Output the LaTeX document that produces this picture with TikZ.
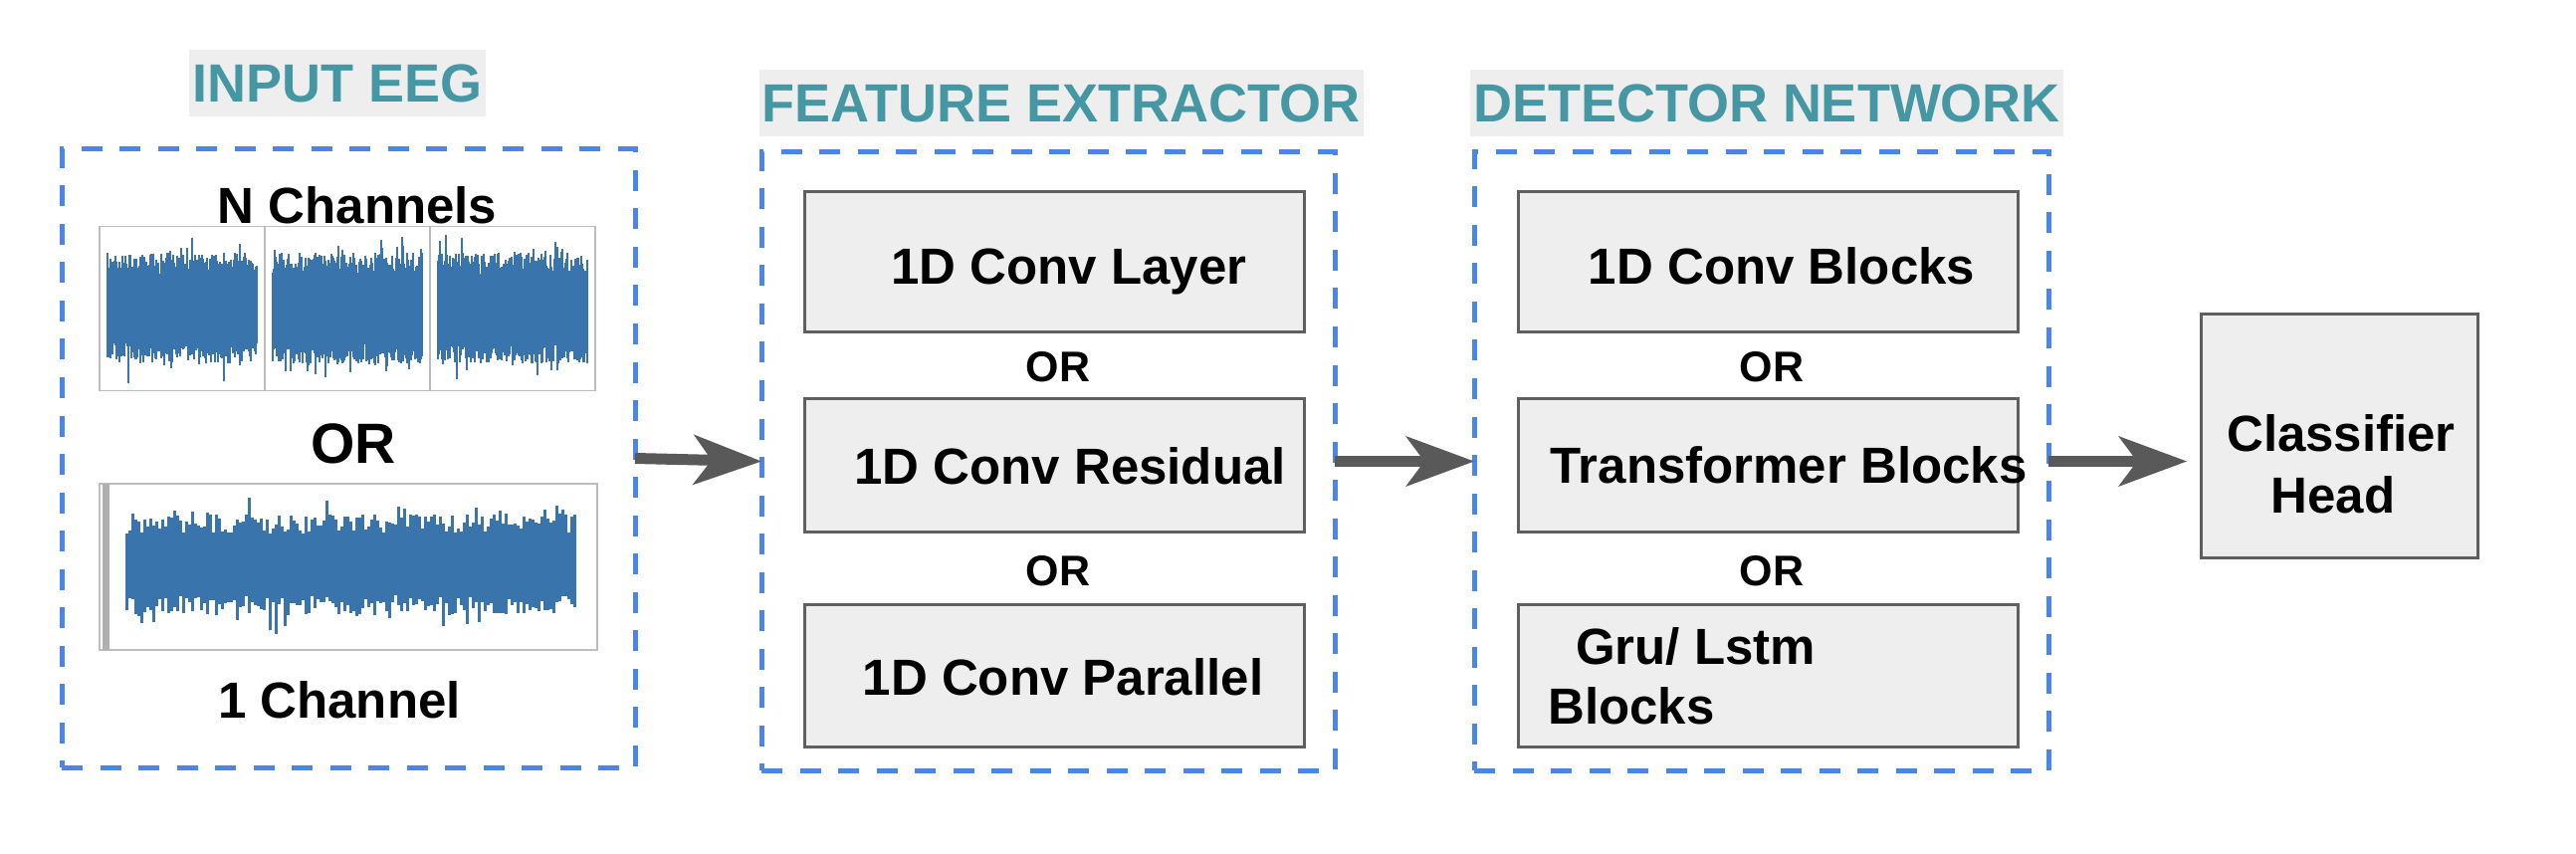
\documentclass[tikz,border=0pt]{standalone}
\usepackage{fontspec}
\setmainfont{Liberation Sans}
\usetikzlibrary{arrows.meta}
\definecolor{dashblue}{HTML}{4A86E8}
\definecolor{titleteal}{HTML}{4597A3}
\definecolor{titlebg}{HTML}{EEEEEE}
\definecolor{boxfill}{HTML}{EEEEEE}
\definecolor{boxline}{HTML}{5F5F5F}
\definecolor{arrowgray}{HTML}{595959}
\definecolor{sigblue}{HTML}{3A74AD}
\definecolor{framegray}{HTML}{BDBDBD}
\begin{document}
\begin{tikzpicture}[x=1pt,y=-1pt,
  group/.style={draw=dashblue, line width=5pt, dash pattern=on 21pt off 17.5pt, inner sep=0pt, outer sep=0pt, minimum height=621pt},
  blk/.style={draw=boxline, fill=boxfill, line width=3pt, inner sep=0pt, outer sep=0pt, minimum width=502pt},
  txt/.style={font=\bfseries\fontsize{51}{60}\selectfont, inner sep=0pt, anchor=base},
  ortxt/.style={font=\bfseries\fontsize{43}{50}\selectfont, inner sep=0pt, anchor=base},
  bigor/.style={font=\bfseries\fontsize{57}{64}\selectfont, inner sep=0pt, anchor=base},
  ttl/.style={font=\bfseries\fontsize{54}{60}\selectfont, text=titleteal, fill=titlebg, inner xsep=3pt, inner ysep=0pt, text height=53pt, text depth=14pt, anchor=base},
  frame/.style={draw=framegray, line width=1.5pt, inner sep=0pt, outer sep=0pt},
  sigthin/.style={draw=sigblue, line width=1.2pt},
  sigthick/.style={draw=sigblue, line width=3pt},
  bigarrow/.style={draw=arrowgray, line width=11pt, -{Stealth[length=69pt, width=51pt, inset=19pt, line width=0pt, fill=arrowgray]}}
]
\fill[white] (0,0) rectangle (2588,858);
\useasboundingbox (0,0) rectangle (2588,858);

% titles
\node[ttl] (tin) at (339,103) {INPUT EEG};
\node[ttl] (tfe) at (1066,123) {FEATURE EXTRACTOR};
\node[ttl] (tde) at (1775,123) {DETECTOR NETWORK};

% groups
\node[group, minimum width=576pt] (input) at (350,460.5) {};
\node[group, minimum width=576pt] (feature) at (1053,463.5) {};
\node[group, minimum width=577pt] (detector) at (1769.5,463.5) {};

% input contents
\node[txt] (nch) at (359,225) {N Channels};
\pgfmathsetseed{11}
\foreach \cx in {0,166,332} {
  \foreach \x in {108,...,258} {
    \pgfmathsetmacro\u{34+22*rnd+(rnd>0.86)*20*rnd}
    \pgfmathsetmacro\d{34+22*rnd+(rnd>0.86)*20*rnd}
    \draw[sigthin] (\x+\cx,310-\u) -- (\x+\cx,310+\d);
  }
}
\node[frame, minimum width=166pt, minimum height=165pt] (p1) at (183,310) {};
\node[frame, minimum width=166pt, minimum height=165pt] (p2) at (349,310) {};
\node[frame, minimum width=166pt, minimum height=165pt] (p3) at (515,310) {};
\node[bigor] (or0) at (355,465) {OR};
\foreach \x in {127,130,...,578} {
  \pgfmathsetmacro\u{31+20*rnd+(rnd>0.82)*20*rnd}
  \pgfmathsetmacro\d{31+20*rnd+(rnd>0.82)*20*rnd}
  \draw[sigthick] (\x,567-\u) -- (\x,567+\d);
}
\node[frame, minimum width=500pt, minimum height=167pt] (p4) at (350,569.5) {};
\draw[draw=framegray!120, line width=7pt] (p4.north west) ++(6,0) -- ++(0,167);
\node[txt] (onech) at (341,721) {1 Channel};

% feature extractor
\node[blk, minimum height=141pt] (f1) at (1059,263.5) {};
\node[blk, minimum height=134pt] (f2) at (1059,467) {};
\node[blk, minimum height=143pt] (f3) at (1059,678.5) {};
\node[txt] (f1t) at (1074,286) {1D Conv Layer};
\node[ortxt] (for1) at (1063,384) {OR};
\node[txt] (f2t) at (1075,486) {1D Conv Residual};
\node[ortxt] (for2) at (1063,588) {OR};
\node[txt] (f3t) at (1068,698) {1D Conv Parallel};

% detector network
\node[blk, minimum height=141pt] (d1) at (1776,263.5) {};
\node[blk, minimum height=134pt] (d2) at (1776,467) {};
\node[blk, minimum height=143pt] (d3) at (1776,678.5) {};
\node[txt] (d1t) at (1790,286) {1D Conv Blocks};
\node[ortxt] (dor1) at (1780,384) {OR};
\node[txt] (d2t) at (1797,485) {Transformer Blocks};
\node[ortxt] (dor2) at (1780,588) {OR};
\node[txt, anchor=base west] (d3ta) at (1583,667) {Gru/ Lstm};
\node[txt, anchor=base west] (d3tb) at (1555,727) {Blocks};

% classifier
\node[blk, minimum width=278pt, minimum height=244pt] (cls) at (2350,438) {};
\node[txt] (clsa) at (2352,453) {Classifier};
\node[txt] (clsb) at (2344,515) {Head};

% arrows
\draw[bigarrow] (input.east) -- (feature.west);
\draw[bigarrow] (feature.east) -- (detector.west);
\draw[bigarrow, shorten >=14pt] (detector.east) -- (detector.east -| cls.west);
\end{tikzpicture}
\end{document}
